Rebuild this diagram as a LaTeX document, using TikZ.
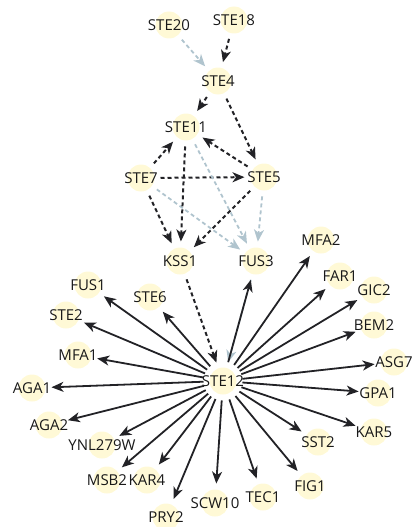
\documentclass[tikz,border=0pt]{standalone}
\usepackage{fontspec}
\setsansfont{Open Sans}
\usetikzlibrary{arrows.meta}
\definecolor{nodefill}{RGB}{255,249,214}
\definecolor{darkedge}{RGB}{34,34,38}
\definecolor{lightedge}{RGB}{176,196,206}
\tikzset{gene/.style={circle,fill=nodefill,minimum size=27pt,inner sep=0pt,outer sep=6pt,
    label={[font=\sffamily\fontsize{15}{17}\selectfont,text=black!90]center:#1}},
  arr/.style={-{Stealth[length=12pt,width=10pt,inset=3.5pt]}},
  act/.style={arr,darkedge,line width=2pt,dash pattern=on 4pt off 3pt},
  inf/.style={arr,lightedge,line width=1.8pt,dash pattern=on 4pt off 3pt},
  reg/.style={arr,darkedge,line width=1.8pt}}

\begin{document}
\begin{tikzpicture}[x=1pt,y=-1pt]
\useasboundingbox (0,0) rectangle (417,527);
\foreach \n/\t/\x/\y in {ste20/STE20/169/25, ste18/STE18/234/20, ste4/STE4/218/81,
    ste11/STE11/186/127, ste7/STE7/141/178, ste5/STE5/264/177, kss1/KSS1/180/261,
    fus3/FUS3/256/261, ste12/STE12/223/381, mfa2/MFA2/321/240, far1/FAR1/340/276,
    gic2/GIC2/374/290, bem2/BEM2/374/325, asg7/ASG7/394/362, gpa1/GPA1/378/393,
    kar5/KAR5/374/432, sst2/SST2/318/442, fig1/FIG1/310/486, tec1/TEC1/263/497,
    scw10/SCW10/215/503, pry2/PRY2/166/517, kar4/KAR4/147/480, msb2/MSB2/107/480,
    ynl/YNL279W/102/445, aga2/AGA2/49/425, aga1/AGA1/32/388, mfa1/MFA1/78/355,
    ste2/STE2/66/315, fus1/FUS1/88/285, ste6/STE6/150/297}
  \node[gene=\t] (\n) at (\x,\y) {};
\draw[inf] (ste20) -- (ste4);
\draw[act] (ste18) -- (ste4);
\draw[act] (ste4) -- (ste11);
\draw[act] (ste4) -- (ste5);
\draw[act] (ste7) -- (ste11);
\draw[act] (ste7) -- (ste5);
\draw[act] (ste5) -- (ste11);
\foreach \s in {ste11,ste7,ste5} \draw[inf] (\s) -- (fus3);
\foreach \s in {ste7,ste11,ste5} \draw[act] (\s) -- (kss1);
\draw[act] (kss1) -- (ste12);
\draw[inf] (fus3) -- (ste12);
\foreach \g in {fus3,mfa2,far1,gic2,bem2,asg7,gpa1,kar5,sst2,fig1,tec1,scw10,pry2,
    kar4,msb2,ynl,aga2,aga1,mfa1,ste2,fus1,ste6}
  \draw[reg] (ste12) -- (\g);
\end{tikzpicture}
\end{document}
